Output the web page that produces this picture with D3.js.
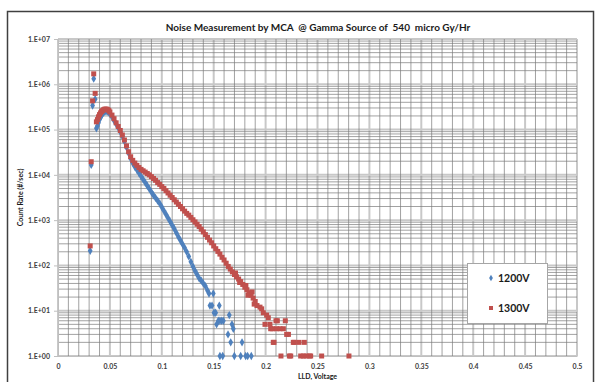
<!DOCTYPE html>
<html>
<head>
<meta charset="utf-8">
<script src="https://cdn.jsdelivr.net/npm/d3@7"></script>
<style>
  html, body { margin: 0; padding: 0; background: #fff; }
  svg { display: block; font-family: Lato, "Open Sans", sans-serif; }
</style>
</head>
<body>
<div id="app"></div>
<script>
// LLD (V) and count rate (#/sec)
const lld1200 = [
  0.031, 0.032, 0.0333, 0.0344, 0.0358,
  0.037, 0.038, 0.039, 0.040, 0.041, 0.042, 0.043, 0.044, 0.045, 0.046, 0.047, 0.048, 0.049, 0.050,
  0.052, 0.054, 0.056, 0.058, 0.060, 0.062, 0.064, 0.066, 0.068, 0.070,
  0.072, 0.074, 0.076, 0.078, 0.080, 0.082, 0.084, 0.086, 0.088, 0.090,
  0.092, 0.094, 0.096, 0.098, 0.100, 0.102, 0.104, 0.106, 0.108, 0.110,
  0.112, 0.114, 0.116, 0.118, 0.120, 0.122, 0.124, 0.126, 0.128, 0.130,
  0.132, 0.134, 0.136, 0.138, 0.140, 0.142, 0.144,
  0.1455, 0.1464, 0.1484, 0.1496, 0.1503, 0.1519, 0.1528, 0.1545, 0.1554, 0.156, 0.156,
  0.1577, 0.1587, 0.1593, 0.1638, 0.165, 0.1664, 0.1676, 0.1689, 0.1699, 0.176, 0.1773,
  0.1808, 0.1827, 0.1862
];
const rate1200 = [
  210, 16600, 340000, 1330000, 470000,
  107000, 120000, 141000, 166000, 186000, 204000, 224000, 240000, 251000, 257000, 257000, 251000, 240000, 224000,
  191000, 158000, 132000, 110000, 89100, 70800, 55000, 40700, 30200, 22900,
  18200, 15100, 12900, 11000, 9330, 7940, 6760, 5750, 4900, 4170,
  3550, 3090, 2690, 2340, 1950, 1620, 1350, 1120, 933, 776,
  646, 525, 427, 355, 295, 245, 200, 158, 120, 95,
  76, 63, 52, 46, 40, 35, 28,
  24, 13, 13, 24, 9, 9, 5, 6, 13, 6, 1,
  6, 1, 6, 3, 8, 2, 5, 4, 1, 1, 2,
  1, 1, 1
];

const lld1300 = [
  0.031, 0.032, 0.0333, 0.0344, 0.0358,
  0.037, 0.038, 0.039, 0.040, 0.041, 0.042, 0.043, 0.044, 0.045, 0.046, 0.047, 0.048, 0.049, 0.050,
  0.052, 0.054, 0.056, 0.058, 0.060, 0.062, 0.064, 0.066, 0.068, 0.070,
  0.072, 0.074, 0.076, 0.078, 0.080, 0.082, 0.084, 0.086, 0.088, 0.090,
  0.092, 0.094, 0.096, 0.098, 0.100, 0.102, 0.104, 0.106, 0.108, 0.110,
  0.112, 0.114, 0.116, 0.118, 0.120, 0.122, 0.124, 0.126, 0.128, 0.130,
  0.132, 0.134, 0.136, 0.138, 0.140, 0.142, 0.144, 0.146, 0.148, 0.150,
  0.152, 0.154, 0.156, 0.158, 0.160, 0.162, 0.164, 0.166, 0.168, 0.170,
  0.172, 0.174, 0.176, 0.178, 0.180, 0.182, 0.184, 0.186, 0.188, 0.190,
  0.171, 0.175, 0.181, 0.183, 0.187, 0.189,
  0.1917, 0.1946, 0.1962, 0.1978, 0.1994, 0.201, 0.2026, 0.2042, 0.2049, 0.2068, 0.2074, 0.2081,
  0.2100, 0.2107, 0.2113, 0.2139, 0.2148, 0.2171, 0.219, 0.2203, 0.222, 0.2229, 0.2242,
  0.2267, 0.2277, 0.2322, 0.2338, 0.2364, 0.2373, 0.2389, 0.2422, 0.2434, 0.254, 0.2803
];
const rate1300 = [
  270, 19500, 430000, 1700000, 630000,
  148000, 166000, 191000, 214000, 234000, 251000, 263000, 275000, 282000, 282000, 282000, 275000, 263000, 245000,
  209000, 174000, 141000, 117000, 95500, 75900, 58900, 43600, 32400, 25100,
  20900, 18200, 16200, 14500, 13200, 12300, 11500, 10700, 10000, 9120,
  8320, 7590, 6760, 6170, 5500, 5010, 4470, 3980, 3550, 3160,
  2820, 2510, 2240, 2000, 1780, 1580, 1410, 1290, 1150, 1020,
  912, 813, 724, 631, 550, 479, 417, 363, 316, 269,
  234, 204, 178, 151, 132, 112, 95, 83, 72, 63,
  56, 50, 44, 38, 33, 29, 25, 22, 19, 16,
  68, 42, 36, 22, 26, 14,
  13, 12, 11, 9, 5, 8, 7, 5, 4, 4, 2, 2,
  6, 4, 6, 4, 1, 4, 6, 3, 3, 1, 1,
  2, 2, 2, 1, 1, 2, 1, 1, 1, 1, 1
];

const xTicks = [0, 0.05, 0.1, 0.15, 0.2, 0.25, 0.3, 0.35, 0.4, 0.45, 0.5];
const yTicks = [1, 10, 100, 1e3, 1e4, 1e5, 1e6, 1e7];
const seriesNames = ["1200V", "1300V"];

const svg = d3.select("#app").append("svg").attr("width", 596).attr("height", 382);

const x = d3.scaleLinear().domain([0, 0.5]).range([58, 577]);
const y = d3.scaleLog().domain([1, 1e7]).range([356, 39]);

// outer chart frame
svg.append("rect")
  .attr("x", 7.5).attr("y", 11.5).attr("width", 586).attr("height", 380)
  .attr("fill", "none").attr("stroke", "#404040").attr("stroke-width", 1.5);

svg.append("text")
  .attr("x", 318).attr("y", 31)
  .attr("text-anchor", "middle")
  .attr("font-size", 10).attr("font-weight", "bold").attr("fill", "#1a1a1a")
  .style("white-space", "pre")
  .text("Noise Measurement by MCA  @ Gamma Source of  540  micro Gy/Hr");

// grid
const grid = svg.append("g");
const minorX = d3.range(0, 0.5001, 0.01).filter((d) => Math.round(d * 100) % 5 !== 0);
const minorY = [];
yTicks.slice(0, -1).forEach((d) => { for (let k = 2; k <= 9; k++) minorY.push(d * k); });

grid.selectAll(".mx").data(xTicks).join("line")
  .attr("x1", (d) => x(d)).attr("x2", (d) => x(d)).attr("y1", y(1e7)).attr("y2", y(1))
  .attr("stroke", "#c8c8c8").attr("stroke-width", 2);
grid.selectAll(".my").data(yTicks).join("line")
  .attr("x1", x(0)).attr("x2", x(0.5)).attr("y1", (d) => y(d)).attr("y2", (d) => y(d))
  .attr("stroke", "#c8c8c8").attr("stroke-width", 2);
grid.selectAll(".nx").data(minorX).join("line")
  .attr("x1", (d) => x(d)).attr("x2", (d) => x(d)).attr("y1", y(1e7)).attr("y2", y(1))
  .attr("stroke", "#7a7a7a").attr("stroke-width", 0.7);
grid.selectAll(".ny").data(minorY).join("line")
  .attr("x1", x(0)).attr("x2", x(0.5)).attr("y1", (d) => y(d)).attr("y2", (d) => y(d))
  .attr("stroke", "#7a7a7a").attr("stroke-width", 0.7);

// axes
const fmtE = (d) => "1.E+" + String(Math.round(Math.log10(d))).padStart(2, "0");
const yAxis = svg.append("g").attr("transform", `translate(${x(0)},0)`)
  .call(d3.axisLeft(y).tickValues(yTicks).tickFormat(fmtE).tickSize(4).tickPadding(4));
const xAxis = svg.append("g").attr("transform", `translate(0,${y(1)})`)
  .call(d3.axisBottom(x).tickValues(xTicks).tickFormat((d) => d === 0 ? "0" : String(d)).tickSize(0).tickPadding(8));
[yAxis, xAxis].forEach((a) => {
  a.select(".domain").attr("stroke", "#bfbfbf");
  a.selectAll(".tick line").attr("stroke", "#bfbfbf");
  a.selectAll("text").attr("font-size", 7).attr("font-weight", "bold").attr("fill", "#404040")
    .attr("font-family", "Lato, sans-serif");
});

svg.append("text")
  .attr("transform", `translate(23,${(y(1) + y(1e7)) / 2}) rotate(-90)`)
  .attr("text-anchor", "middle")
  .attr("font-size", 7).attr("font-weight", "bold").attr("fill", "#1a1a1a")
  .text("Count Rate (#/sec)");
svg.append("text")
  .attr("x", (x(0) + x(0.5)) / 2).attr("y", 379)
  .attr("text-anchor", "middle")
  .attr("font-size", 7).attr("font-weight", "bold").attr("fill", "#1a1a1a")
  .text("LLD, Voltage");

// series
const blue = "#4f81bd", red = "#c0504d";
const diamond = d3.symbol().type(d3.symbolDiamond).size(20);
svg.append("g").selectAll("path").data(d3.zip(lld1200, rate1200)).join("path")
  .attr("transform", (d) => `translate(${x(d[0])},${y(d[1])})`)
  .attr("d", diamond).attr("fill", blue);
svg.append("g").selectAll("rect").data(d3.zip(lld1300, rate1300)).join("rect")
  .attr("x", (d) => x(d[0]) - 2.5).attr("y", (d) => y(d[1]) - 2.5)
  .attr("width", 5).attr("height", 5).attr("fill", red);

// legend
const lg = svg.append("g").attr("transform", "translate(467,263)");
lg.append("rect").attr("x", 0.5).attr("y", 0.5).attr("width", 80).attr("height", 60)
  .attr("fill", "#fff").attr("stroke", "#a6a6a6");
lg.append("path").attr("transform", "translate(24,15)")
  .attr("d", d3.symbol().type(d3.symbolDiamond).size(12)).attr("fill", blue);
lg.append("rect").attr("x", 22).attr("y", 43).attr("width", 4).attr("height", 4).attr("fill", red);
lg.selectAll("text").data(seriesNames).join("text")
  .attr("x", 31).attr("y", (d, i) => 19 + i * 30)
  .attr("font-size", 10.5).attr("font-weight", "bold").attr("fill", "#1a1a1a")
  .text((d) => d);
</script>
</body>
</html>
